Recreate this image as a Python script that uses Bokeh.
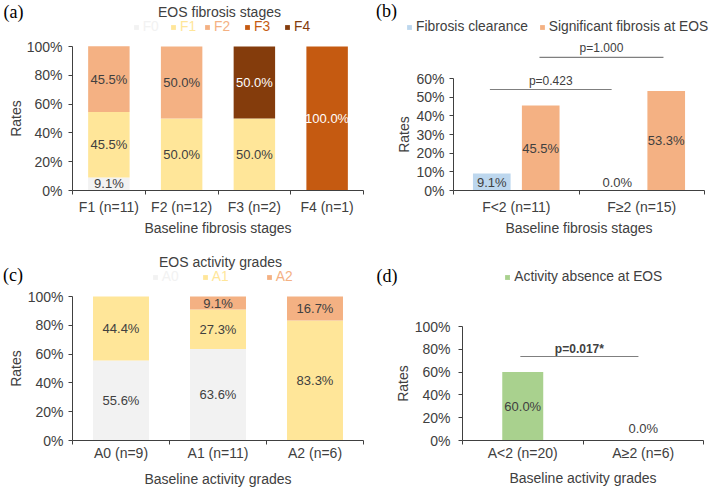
import math
import numpy as np
from bokeh.plotting import figure
from bokeh.models import (Range1d, FixedTicker, PrintfTickFormatter, Label, Legend,
                          LegendItem, ColumnDataSource)
from bokeh.layouts import column, row
from bokeh.transform import dodge
from bokeh.core.properties import value
from bokeh.embed import file_html
from bokeh.resources import INLINE

# ---------------- data ----------------
a_categories = ["F1 (n=11)", "F2 (n=12)", "F3 (n=2)", "F4 (n=1)"]
a_stages = ["F0", "F1", "F2", "F3", "F4"]
a_F0 = [9.1, 0.0, 0.0, 0.0]
a_F1 = [45.5, 50.0, 50.0, 0.0]
a_F2 = [45.5, 50.0, 0.0, 0.0]
a_F3 = [0.0, 0.0, 0.0, 100.0]
a_F4 = [0.0, 0.0, 50.0, 0.0]
a_ticks = [0, 20, 40, 60, 80, 100]

b_categories = ["F<2 (n=11)", "F\u22652 (n=15)"]
b_series = ["Fibrosis clearance", "Significant fibrosis at EOS"]
b_clearance = [9.1, 0.0]
b_significant = [45.5, 53.3]
b_pvalues = ["p=0.423", "p=1.000"]
b_ticks = [0, 10, 20, 30, 40, 50, 60]

c_categories = ["A0 (n=9)", "A1 (n=11)", "A2 (n=6)"]
c_grades = ["A0", "A1", "A2"]
c_A0 = [55.6, 63.6, 0.0]
c_A1 = [44.4, 27.3, 83.3]
c_A2 = [0.0, 9.1, 16.7]
c_ticks = [0, 20, 40, 60, 80, 100]

d_categories = ["A<2 (n=20)", "A\u22652 (n=6)"]
d_series = "Activity absence at EOS"
d_absence = [60.0, 0.0]
d_pvalue = "p=0.017*"
d_ticks = [0, 20, 40, 60, 80, 100]

# ---------------- style / layout ----------------
FONT = "Liberation Sans"
SERIF = "Liberation Serif"
TXT = "#404040"
AXIS = "#404040"
PLINE = "#7F7F7F"
C_F0, C_F1, C_F2, C_F3, C_F4 = "#F2F2F2", "#FFE699", "#F4B183", "#C55A11", "#843C0C"
C_BLUE, C_GREEN = "#BDD7EE", "#A9D18E"

# ox, oy: figure origin on the page; L, R, T, B: plot area (axis extents) on the page
SPECS = {
    'a': dict(ox=0, oy=0, W=370, H=243, L=72, R=363, T=46, B=190),
    'b': dict(ox=370, oy=0, W=342, H=243, L=453, R=704, T=78, B=190),
    'c': dict(ox=0, oy=243, W=370, H=244, L=72, R=363, T=296, B=440),
    'd': dict(ox=370, oy=243, W=342, H=244, L=462, R=703, T=326, B=440),
}


def fx(s, xr):
    return xr - s['ox']


def fy(s, yr):
    return yr - s['oy']


def make_fig(s, n, ytop):
    L, R = fx(s, s['L']), fx(s, s['R'])
    T, B = fy(s, s['T']), fy(s, s['B'])
    kx = (R - L) / n
    ky = (B - T) / ytop
    s['ky'] = ky
    p = figure(width=s['W'], height=s['H'],
               x_range=Range1d(-L / kx, n + (s['W'] - R) / kx),
               y_range=Range1d(-(s['H'] - B) / ky, ytop + T / ky),
               output_backend="svg", toolbar_location=None,
               min_border_left=0, min_border_right=0, min_border_top=0, min_border_bottom=0)
    p.outline_line_color = None
    p.xgrid.visible = False
    p.ygrid.visible = False
    p.background_fill_color = "white"
    p.border_fill_color = "white"
    return p


def style_x(p, cats, standoff):
    n = len(cats)
    centers = [i + 0.5 for i in range(n)]
    ax = p.xaxis[0]
    ax.fixed_location = 0
    ax.bounds = (0, n)
    ax.ticker = FixedTicker(ticks=centers, minor_ticks=list(range(n + 1)))
    ax.major_label_overrides = {c: lab for c, lab in zip(centers, cats)}
    ax.major_tick_out = 0
    ax.major_tick_in = 0
    ax.major_tick_line_color = None
    ax.minor_tick_out = 4
    ax.minor_tick_in = 0
    ax.minor_tick_line_color = AXIS
    ax.axis_line_color = AXIS
    ax.major_label_text_font = FONT
    ax.major_label_text_font_size = "14px"
    ax.major_label_text_color = TXT
    ax.major_label_standoff = standoff


def style_y(p, ticks, standoff):
    ax = p.yaxis[0]
    ax.fixed_location = 0
    ax.bounds = (ticks[0], ticks[-1])
    ax.ticker = FixedTicker(ticks=ticks, minor_ticks=[])
    ax.formatter = PrintfTickFormatter(format="%d%%")
    ax.major_tick_out = 4
    ax.major_tick_in = 0
    ax.major_tick_line_color = AXIS
    ax.minor_tick_line_color = None
    ax.axis_line_color = AXIS
    ax.major_label_text_font = FONT
    ax.major_label_text_font_size = "14px"
    ax.major_label_text_color = TXT
    ax.major_label_standoff = standoff


def add_label(p, s, xr, yr, text, size="14px", font=FONT, color=TXT, style="normal", angle=0.0):
    p.add_layout(Label(x=fx(s, xr), y=s['H'] - fy(s, yr), x_units="screen", y_units="screen",
                       text=text, text_font=font, text_font_size=size, text_color=color,
                       text_font_style=style, text_align="center", text_baseline="middle",
                       angle=angle))


def add_legend_item(p, s, renderer, name, sq_left, yc, text_color):
    h = 16
    x = fx(s, sq_left)
    y = s['H'] - fy(s, yc)
    leg = Legend(items=[LegendItem(label=name, renderers=[renderer])],
                 location=(x, y - h / 2), orientation="horizontal",
                 padding=0, margin=0, spacing=0,
                 glyph_width=6, glyph_height=6, label_standoff=4,
                 label_height=h, label_width=10,
                 label_text_font=FONT, label_text_font_size="13.8px",
                 label_text_color=text_color,
                 background_fill_alpha=0, border_line_alpha=0)
    p.add_layout(leg)


def stack_labels(xs, series_list, text_colors):
    lx, ly, lt, lc = [], [], [], []
    bottom = np.zeros(len(xs))
    for vals, col in zip(series_list, text_colors):
        vals = np.array(vals, dtype=float)
        for i, v in enumerate(vals):
            if v > 0:
                lx.append(xs[i])
                ly.append(bottom[i] + v / 2)
                lt.append(f"{v:.1f}%")
                lc.append(col)
        bottom += vals
    return dict(x=lx, y=ly, text=lt, color=lc)


def draw_texts(p, data, size="13px"):
    p.text(x='x', y='y', text='text', text_color='color', source=ColumnDataSource(data),
           text_align="center", text_baseline="middle",
           text_font=value(FONT), text_font_size=value(size))


# ---------------- panel (a) ----------------
sa = SPECS['a']
pa = make_fig(sa, len(a_categories), a_ticks[-1])
xa = [i + 0.5 for i in range(len(a_categories))]
src_a = ColumnDataSource(dict(x=xa, F0=a_F0, F1=a_F1, F2=a_F2, F3=a_F3, F4=a_F4))
a_colors = [C_F0, C_F1, C_F2, C_F3, C_F4]
rs_a = pa.vbar_stack(a_stages, x='x', width=0.57, fill_color=a_colors, line_color=None, source=src_a)
draw_texts(pa, stack_labels(xa, [a_F0, a_F1, a_F2, a_F3, a_F4], [TXT, TXT, TXT, "white", "white"]))
style_x(pa, a_categories, 4)
style_y(pa, a_ticks, 6)
add_label(pa, sa, 15, 118, "Rates", angle=math.pi / 2)
add_label(pa, sa, 217.5, 227, "Baseline fibrosis stages")
add_label(pa, sa, 13, 11, "(a)", size="18px", font=SERIF, color="black")
add_label(pa, sa, 219, 11.7, "EOS fibrosis stages")
for r, name, col, xl in zip(rs_a, a_stages, a_colors, [132.7, 170, 204, 244, 284]):
    add_legend_item(pa, sa, r, name, xl, 26.7, col)

# ---------------- panel (b) ----------------
sb = SPECS['b']
pb = make_fig(sb, len(b_categories), b_ticks[-1])
xb = [i + 0.5 for i in range(len(b_categories))]
src_b = ColumnDataSource(dict(x=xb, clear=b_clearance, sig=b_significant))
off = 0.195
rb1 = pb.vbar(x=dodge('x', -off), top='clear', width=0.30, fill_color=C_BLUE, line_color=None, source=src_b)
rb2 = pb.vbar(x=dodge('x', off), top='sig', width=0.30, fill_color=C_F2, line_color=None, source=src_b)
zero_b = 8 / sb['ky']
lab_b = dict(x=[], y=[], text=[], color=[])
for xs_, vals in ((-off, b_clearance), (off, b_significant)):
    for i, v in enumerate(vals):
        lab_b['x'].append(xb[i] + xs_)
        lab_b['y'].append(v / 2 if v > 0 else zero_b)
        lab_b['text'].append(f"{v:.1f}%")
        lab_b['color'].append(TXT)
draw_texts(pb, lab_b)
# significance brackets
b_br_x0 = [0.29, 0.685]
b_br_x1 = [1.26, 1.673]
b_br_y = [54.1, 71.3]
pb.segment(x0=b_br_x0, y0=b_br_y, x1=b_br_x1, y1=b_br_y, line_color=PLINE, line_width=1.2)
pb.text(x=[(a + b) / 2 for a, b in zip(b_br_x0, b_br_x1)], y=[y + 4.8 for y in b_br_y],
        text=b_pvalues, text_align="center", text_baseline="middle",
        text_font=value(FONT), text_font_size=value("12px"), text_color=TXT)
style_x(pb, b_categories, 4)
style_y(pb, b_ticks, 5)
add_label(pb, sb, 403, 134, "Rates", angle=math.pi / 2)
add_label(pb, sb, 578.5, 227, "Baseline fibrosis stages")
add_label(pb, sb, 386, 10, "(b)", size="18px", font=SERIF, color="black")
add_legend_item(pb, sb, rb1, b_series[0], 406, 26.7, TXT)
add_legend_item(pb, sb, rb2, b_series[1], 538.7, 26.7, TXT)

# ---------------- panel (c) ----------------
sc = SPECS['c']
pc = make_fig(sc, len(c_categories), c_ticks[-1])
xc = [i + 0.5 for i in range(len(c_categories))]
src_c = ColumnDataSource(dict(x=xc, A0=c_A0, A1=c_A1, A2=c_A2))
c_colors = [C_F0, C_F1, C_F2]
rs_c = pc.vbar_stack(c_grades, x='x', width=0.577, fill_color=c_colors, line_color=None, source=src_c)
draw_texts(pc, stack_labels(xc, [c_A0, c_A1, c_A2], [TXT, TXT, TXT]))
style_x(pc, c_categories, 0)
style_y(pc, c_ticks, 5)
add_label(pc, sc, 15, 368, "Rates", angle=math.pi / 2)
add_label(pc, sc, 217.5, 478, "Baseline activity grades")
add_label(pc, sc, 12.5, 274, "(c)", size="18px", font=SERIF, color="black")
add_label(pc, sc, 220, 261.7, "EOS activity grades")
for r, name, col, xl in zip(rs_c, c_grades, c_colors, [151.7, 201.7, 265.7]):
    add_legend_item(pc, sc, r, name, xl, 276.7, col)

# ---------------- panel (d) ----------------
sd = SPECS['d']
pd_ = make_fig(sd, len(d_categories), d_ticks[-1])
xd = [i + 0.5 for i in range(len(d_categories))]
src_d = ColumnDataSource(dict(x=xd, absence=d_absence))
rd = pd_.vbar(x='x', top='absence', width=0.34, fill_color=C_GREEN, line_color=None, source=src_d)
zero_d = 12 / sd['ky']
lab_d = dict(x=[], y=[], text=[], color=[])
for i, v in enumerate(d_absence):
    lab_d['x'].append(xd[i])
    lab_d['y'].append(v / 2 if v > 0 else zero_d)
    lab_d['text'].append(f"{v:.1f}%")
    lab_d['color'].append(TXT)
draw_texts(pd_, lab_d)
d_br_x0, d_br_x1, d_br_y = 0.48, 1.46, 73.7
pd_.segment(x0=[d_br_x0], y0=[d_br_y], x1=[d_br_x1], y1=[d_br_y], line_color=PLINE, line_width=1.2)
pd_.text(x=[(d_br_x0 + d_br_x1) / 2], y=[d_br_y + 7], text=[d_pvalue], text_align="center",
         text_baseline="middle", text_font=value(FONT), text_font_size=value("12px"),
         text_font_style="bold", text_color=TXT)
style_x(pd_, d_categories, 0)
style_y(pd_, d_ticks, 8)
add_label(pd_, sd, 402.7, 383, "Rates", angle=math.pi / 2)
add_label(pd_, sd, 582.5, 477, "Baseline activity grades")
add_label(pd_, sd, 386.5, 275, "(d)", size="18px", font=SERIF, color="black")
add_legend_item(pd_, sd, rd, d_series, 504.3, 276.7, TXT)

layout = column(row(pa, pb), row(pc, pd_))

with open("out.html", "w") as f:
    f.write(file_html(layout, INLINE))
